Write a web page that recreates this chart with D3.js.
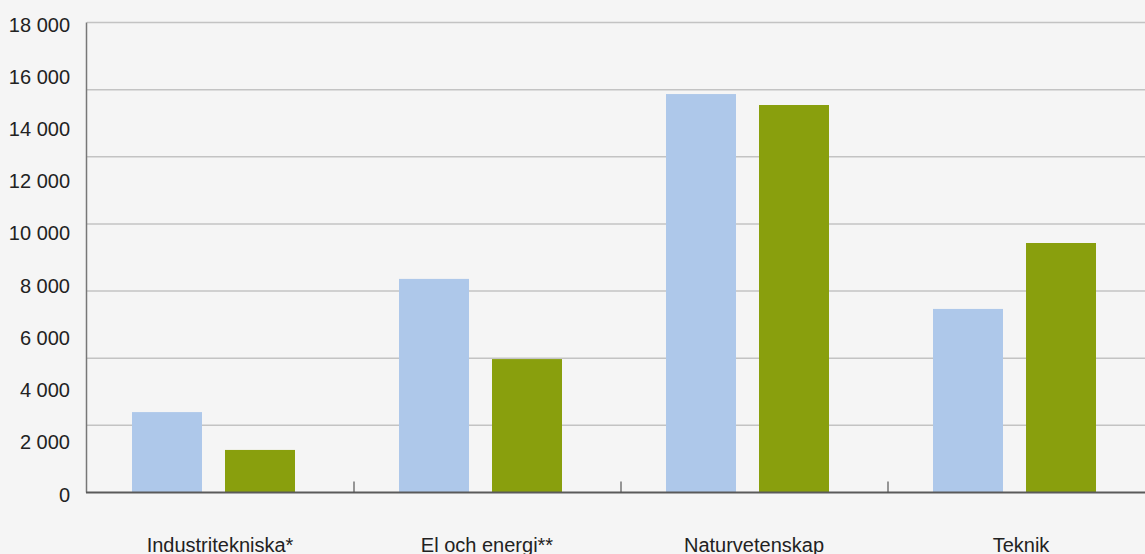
<!DOCTYPE html>
<html>
<head>
<meta charset="utf-8">
<script src="https://cdn.jsdelivr.net/npm/d3@7"></script>
<style>
  html, body { margin: 0; padding: 0; background: #f5f5f5; overflow: hidden; }
  svg { display: block; }
  text { font-family: "Liberation Sans", Arial, sans-serif; fill: #222; }
</style>
</head>
<body>
<svg id="chart" width="1145" height="554"></svg>
<script>
// ---- data ----
const categories = ["Industritekniska*", "El och energi**", "Naturvetenskap", "Teknik"];
const seriesNames = ["Serie 1", "Serie 2"];
const seriesBlue  = [3080, 8180, 15260, 7030];
const seriesGreen = [1630, 5110, 14840, 9555];
const yTickValues = [0, 2000, 4000, 6000, 8000, 10000, 12000, 14000, 16000, 18000];
const gridIndex = [1, 2, 3, 4, 5, 6, 7];

// ---- layout ----
const W = 1145, H = 554;
const plotLeft = 87, plotTop = 22.5, plotBottom = 492.5;
const bandW = 267;
const colors = ["#aec8ea", "#899f0d"];

const svg = d3.select("#chart");
svg.append("rect").attr("width", W).attr("height", H).attr("fill", "#f5f5f5");

const y = d3.scaleLinear().domain([0, 18000]).range([plotBottom, plotTop]);
const gridY = d3.scaleLinear().domain([0, 7]).range([plotBottom, plotTop]);
const x0 = d3.scaleBand().domain(categories).range([plotLeft, plotLeft + bandW * categories.length]).padding(0);
const x1 = d3.scaleBand().domain(seriesNames).range([45, 208]).paddingInner(0.2473).paddingOuter(0);

// gridlines
svg.append("g").selectAll("line").data(gridIndex).join("line")
  .attr("x1", plotLeft).attr("x2", W)
  .attr("y1", d => gridY(d)).attr("y2", d => gridY(d))
  .attr("stroke", "#c3c3c3").attr("stroke-width", 1.5);

// bars
const data = categories.map((c, i) => ({ cat: c, vals: [seriesBlue[i], seriesGreen[i]] }));
const groups = svg.append("g").selectAll("g").data(data).join("g")
  .attr("transform", d => `translate(${x0(d.cat)},0)`);
groups.selectAll("rect").data(d => d.vals.map((v, j) => ({ v, s: seriesNames[j], j })))
  .join("rect")
  .attr("x", d => x1(d.s))
  .attr("width", x1.bandwidth())
  .attr("y", d => y(d.v))
  .attr("height", d => y(0) - y(d.v))
  .attr("fill", d => colors[d.j]);

// left axis line
svg.append("line").attr("x1", plotLeft - 0.5).attr("x2", plotLeft - 0.5).attr("y1", plotTop).attr("y2", plotBottom)
  .attr("stroke", "#777").attr("stroke-width", 1.5);

// baseline
svg.append("line").attr("x1", plotLeft - 1).attr("x2", W).attr("y1", plotBottom).attr("y2", plotBottom)
  .attr("stroke", "#5a5a5a").attr("stroke-width", 2);

// band-boundary ticks
svg.append("g").selectAll("line").data(categories.slice(1)).join("line")
  .attr("x1", d => x0(d)).attr("x2", d => x0(d))
  .attr("y1", plotBottom - 11).attr("y2", plotBottom)
  .attr("stroke", "#555").attr("stroke-width", 1.2);

// y labels
const fmt = v => d3.format(",")(v).replace(/,/g, " ");
svg.append("g").selectAll("text").data(yTickValues).join("text")
  .attr("x", 70).attr("y", d => y(d) + 9)
  .attr("text-anchor", "end")
  .attr("font-size", 20)
  .text(d => fmt(d));

// category labels
svg.append("g").selectAll("text").data(categories).join("text")
  .attr("x", d => x0(d) + bandW / 2 - 0.5)
  .attr("y", 552)
  .attr("text-anchor", "middle")
  .attr("font-size", 20)
  .text(d => d);
</script>
</body>
</html>
